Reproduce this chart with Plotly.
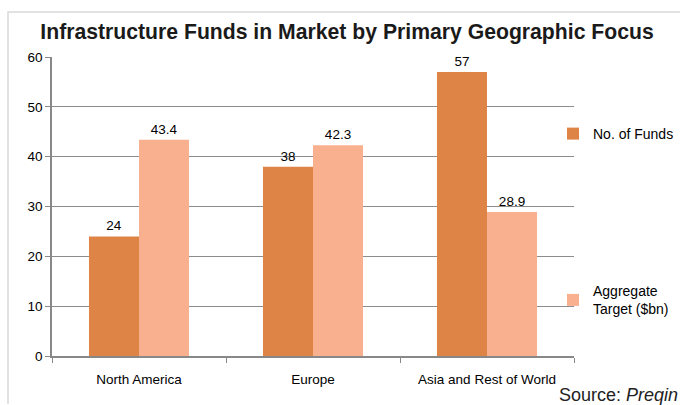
import plotly.graph_objects as go

categories = ["North America", "Europe", "Asia and Rest of World"]
funds = [24, 38, 57]
target = [43.4, 42.3, 28.9]
funds_labels = ["24", "38", "57"]
target_labels = ["43.4", "42.3", "28.9"]
y_ticks = [0, 10, 20, 30, 40, 50, 60]

W, H = 681, 405
L, R, T, B = 52, 107, 57, 49
pw, ph = W - L - R, H - T - B

fig = go.Figure()
fig.add_trace(go.Bar(
    x=categories, y=funds, name="No. of Funds",
    marker=dict(color="#DD8446", line=dict(width=0)),
    text=funds_labels, textposition="outside", cliponaxis=False,
    textfont=dict(size=13.5, color="#000000"),
    legendgroup="a",
))
fig.add_trace(go.Bar(
    x=categories, y=target, name="Aggregate<br>Target ($bn)",
    marker=dict(color="#F9B08E", line=dict(width=0)),
    text=target_labels, textposition="outside", cliponaxis=False,
    textfont=dict(size=13.5, color="#000000"),
    legendgroup="b",
))

fx0 = (8 - L) / pw
fx1 = (W - 1 - L) / pw
fy0 = -(B - 1) / ph
fy1 = 1 + (T - 12) / ph
frame_path = f"M {fx1},{fy1} L {fx0},{fy1} L {fx0},{fy0}"

fig.update_layout(
    width=W, height=H,
    margin=dict(l=L, r=R, t=T, b=B, pad=0, autoexpand=False),
    paper_bgcolor="white", plot_bgcolor="white",
    font=dict(family="Liberation Sans, Arial, sans-serif", size=13.5, color="#000000"),
    barmode="group", bargap=0.425, bargroupgap=0,
    title=dict(text="<b>Infrastructure Funds in Market by Primary Geographic Focus</b>",
               x=347 / W, xref="container", xanchor="center",
               y=1 - 32 / H, yref="container", yanchor="middle",
               font=dict(size=21.2, color="#1a1a1a")),
    showlegend=True,
    legend=dict(x=(553 - L) / pw, xanchor="left",
                y=(H - B - 118) / ph, yanchor="top",
                traceorder="grouped", tracegroupgap=136,
                font=dict(size=14, color="#000000"),
                itemwidth=30, bgcolor="rgba(0,0,0,0)",
                borderwidth=0),
    xaxis=dict(showline=True, linecolor="#888888", linewidth=1.5,
               ticks="outside", tickcolor="#888888", ticklen=5,
               tickson="boundaries", showgrid=False, ticklabelstandoff=10,
               tickfont=dict(size=13.5, color="#000000")),
    yaxis=dict(range=[0, 60], tickvals=y_ticks, showline=True,
               linecolor="#888888", linewidth=1.5,
               ticks="outside", tickcolor="#888888", ticklen=5,
               showgrid=True, gridcolor="#8c8c8c", gridwidth=1.2,
               zeroline=False, tickfont=dict(size=13.5, color="#000000")),
    shapes=[dict(type="path", xref="paper", yref="paper", path=frame_path,
                 line=dict(color="#d9d9d9", width=1.5), layer="below")],
    annotations=[dict(text="Source: <i>Preqin</i>", xref="paper", yref="paper",
                      x=(680 - L) / pw, y=-(395 - T - ph) / ph,
                      xanchor="right", yanchor="middle", showarrow=False,
                      font=dict(size=18, color="#222222"))],
)

fig.write_html("out.html", config={"displayModeBar": False},
               post_script="document.body.style.margin='0';"
                           "document.body.style.overflow='hidden';"
                           "document.documentElement.style.overflow='hidden';")
